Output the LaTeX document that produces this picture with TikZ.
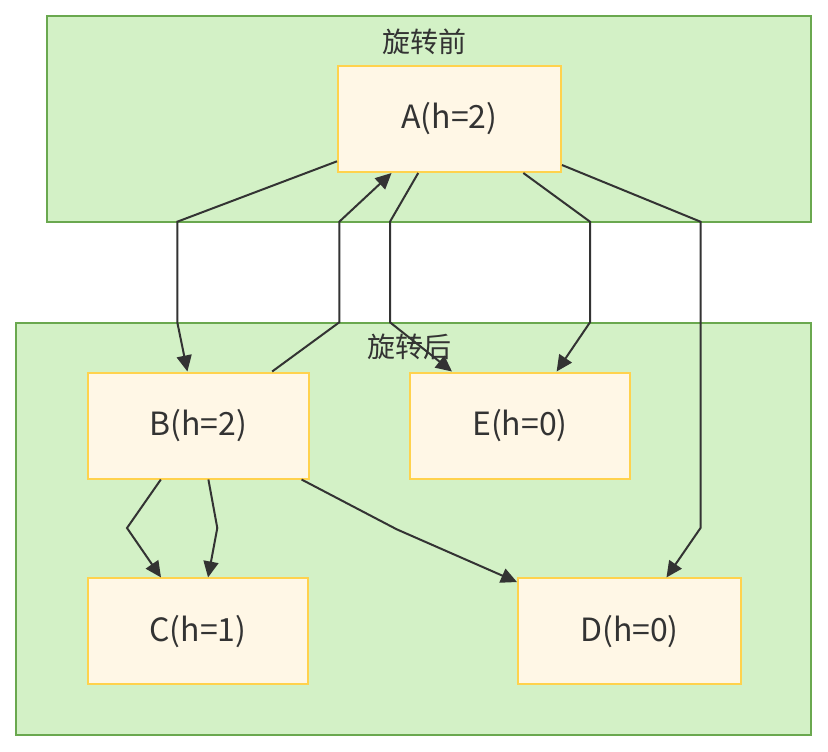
\documentclass[tikz,border=0pt]{standalone}
\usepackage{fontspec}
\setmainfont{Noto Sans CJK SC}
\newfontfamily\cjkfont{Noto Sans CJK SC}
\usetikzlibrary{arrows.meta}
\definecolor{clfill}{HTML}{D3F1C6}
\definecolor{cldraw}{HTML}{6AA84F}
\definecolor{ndfill}{HTML}{FFF7E6}
\definecolor{nddraw}{HTML}{FFD24D}
\definecolor{ink}{HTML}{333333}
\begin{document}
\begin{tikzpicture}[x=1pt,y=-1pt,
  cluster/.style={draw=cldraw,fill=clfill,line width=2pt},
  cltitle/.style={text=ink,font=\cjkfont\fontsize{28}{32}\selectfont,inner sep=0pt},
  box/.style={draw=nddraw,fill=ndfill,line width=2pt,rectangle,minimum width=222pt,minimum height=106pt,inner sep=0pt,text=ink,font=\fontsize{32}{36}\selectfont},
  edge/.style={draw=ink,line width=2pt,-{Triangle[length=16pt,width=15pt]}}]
\useasboundingbox (0,0) rectangle (828,752);
% clusters
\draw[cluster] (47,16) rectangle (811,221.5);
\draw[cluster] (16,322.5) rectangle (811,735);
\node[cltitle] (t1) at (424,42) {旋转前};
\node[cltitle] (t2) at (409,347) {旋转后};
% nodes
\node[box,minimum width=223pt] (A) at (449.5,119) {A(h=2)};
\node[box,minimum width=221pt] (B) at (198.5,425.5) {B(h=2)};
\node[box,minimum width=220pt] (E) at (520,425.5) {E(h=0)};
\node[box,minimum width=220pt,minimum height=105.5pt] (C) at (198,631.2) {C(h=1)};
\node[box,minimum width=223pt,minimum height=105.5pt] (D) at (629.5,631.2) {D(h=0)};
% waypoints
\coordinate (ab1) at (177.3,221.7); \coordinate (ab2) at (177.3,322.3);
\coordinate (ba1) at (339.3,322.3); \coordinate (ba2) at (339.3,221.7);
\coordinate (ae1) at (390,221.7);   \coordinate (ae2) at (390,322.3);
\coordinate (af1) at (590,221.7);   \coordinate (af2) at (590,322.3);
\coordinate (ad1) at (700.5,221.7); \coordinate (ad2) at (700.5,528);
\coordinate (bc1) at (127,528);
\coordinate (bc2) at (217.3,528);
\coordinate (bd1) at (396.7,529.3);
% edges
\draw[edge] (A) -- (ab1) -- (ab2) -- (B);
\draw[edge] (B) -- (ba1) -- (ba2) -- (A);
\draw[edge] (A) -- (ae1) -- (ae2) -- (E);
\draw[edge] (A) -- (af1) -- (af2) -- (E);
\draw[edge] (A) -- (ad1) -- (ad2) -- (D);
\draw[edge] (B) -- (bc1) -- (C);
\draw[edge] (B) -- (bc2) -- (C);
\draw[edge] (B) -- (bd1) -- (D);
\end{tikzpicture}
\end{document}
